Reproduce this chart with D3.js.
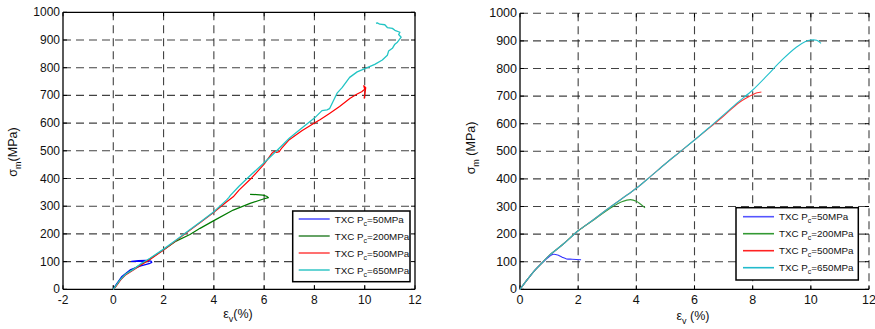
<!DOCTYPE html>
<html><head><meta charset="utf-8">
<script src="https://cdn.jsdelivr.net/npm/d3@7"></script>
<style>
body{margin:0;background:#fff;}
svg{display:block;font-family:"Liberation Sans",Arial,sans-serif;}
</style></head>
<body>
<svg id="c" width="875" height="329"></svg>
<script>
// ---------- data ----------
const seriesNames = ["50MPa","200MPa","500MPa","650MPa"];
const xTicksLeft = [-2,0,2,4,6,8,10,12];
const xTicksRight = [0,2,4,6,8,10,12];
const yTicks = [0,100,200,300,400,500,600,700,800,900,1000];

// left panel (experimental, eps_v %, sigma_m MPa)
const left50 = [[0,0],[0.1,15],[0.33,45],[0.67,70],[1.06,84],[1.46,94],[1.53,97],[1.5,102],[1.3,104],[1.0,103],[0.73,101],[0.9,102],[1.2,100],[1.4,101]];
const left200 = [[0,0],[0.1,12],[0.27,34],[0.5,55],[0.8,72],[1.1,90],[1.46,110],[2,143],[2.5,174],[3.05,198],[3.45,220],[4,248],[4.77,286],[5.44,310],[5.97,326],[6.17,331],[6.1,336],[5.95,340],[5.7,342],[5.44,343]];
const left500 = [[0,0],[0.1,10],[0.3,35],[0.5,53],[0.8,70],[1.1,88],[1.46,108],[2,142],[2.5,176],[3,210],[3.5,244],[4,278],[4.5,315],[4.77,334],[5,358],[5.5,402],[6,452],[6.3,490],[6.4,498],[6.5,494],[6.6,497],[6.7,510],[7,540],[7.5,572],[8,600],[8.22,612],[8.6,635],[9,660],[9.42,690],[9.7,705],[9.88,713],[10,722],[9.96,735],[10.04,728],[10,700],[9.98,690],[10.02,716]];
const left650 = [[0,0],[0.1,12],[0.27,34],[0.5,55],[0.8,72],[1.1,92],[1.46,112],[2,145],[2.5,178],[3,212],[3.5,246],[4,280],[4.5,322],[4.6,332],[4.65,338],[5,372],[5.5,415],[6,457],[6.5,500],[7,545],[7.5,582],[8,618],[8.3,645],[8.5,648],[8.6,652],[8.75,680],[8.9,708],[9.1,728],[9.4,765],[9.7,785],[10.1,800],[10.4,812],[10.7,828],[10.9,845],[10.95,860],[11.1,870],[11.2,885],[11.3,892],[11.45,910],[11.35,920],[11.4,928],[11.2,935],[11.1,942],[10.9,945],[10.8,955],[10.6,957],[10.5,962],[10.45,960]];

// right panel (simulation)
const right50 = [[0,0],[0.25,35],[0.5,68],[0.75,95],[1.0,118],[1.15,127],[1.3,124],[1.45,116],[1.6,110],[1.8,109],[2.1,107]];
const right200 = [[0,0],[0.25,35],[0.5,68],[0.75,95],[1,122],[1.5,165],[2,212],[2.5,249],[2.8,272],[3.2,300],[3.5,317],[3.8,325],[4.0,319],[4.15,308],[4.3,295]];
const right500 = [[0,0],[0.25,35],[0.5,68],[0.75,95],[1,122],[1.5,165],[2,212],[2.5,250],[3,290],[3.5,328],[4,366],[4.5,410],[5,455],[5.5,498],[6,541],[6.5,584],[7,628],[7.5,674],[7.8,694],[8,705],[8.15,712],[8.3,715]];
const right650 = [[0,0],[0.25,35],[0.5,68],[0.75,95],[1,122],[1.5,165],[2,212],[2.5,250],[3,290],[3.5,328],[4,366],[4.5,410],[5,455],[5.5,498],[6,541],[6.5,586],[7,632],[7.5,678],[8,722],[8.5,775],[9,830],[9.5,877],[9.8,897],[10,903],[10.2,902],[10.35,891]];

// ---------- drawing ----------
const svg = d3.select("#c");

function panel(o){
  const g = svg.append("g");
  const x = d3.scaleLinear().domain(o.xdom).range([o.x0,o.x1]);
  const y = d3.scaleLinear().domain([0,1000]).range([o.y1,o.y0]);
  const gridCol = "#222";
  // grid
  const gx = o.xticks.filter(t => o.fullBox ? (t!==o.xdom[0] && t!==o.xdom[1]) : t!==o.xdom[0]);
  const gy = yTicks.filter(t => o.fullBox ? (t!==0 && t!==1000) : t!==0);
  g.selectAll(".vg").data(gx).join("line")
    .attr("x1",d=>x(d)).attr("x2",d=>x(d)).attr("y1",o.y0).attr("y2",o.y1)
    .attr("stroke",gridCol).attr("stroke-width",1.1).attr("stroke-dasharray","8,5").attr("opacity",0.85);
  g.selectAll(".hg").data(gy).join("line")
    .attr("y1",d=>y(d)).attr("y2",d=>y(d)).attr("x1",o.x0).attr("x2",o.x1)
    .attr("stroke",gridCol).attr("stroke-width",1.1).attr("stroke-dasharray","8,5").attr("opacity",0.85);
  // inner ticks on all sides
  const tl = 4;
  g.selectAll(".tb").data(o.xticks).join("line").attr("x1",d=>x(d)).attr("x2",d=>x(d)).attr("y1",o.y1).attr("y2",o.y1-tl).attr("stroke","#000");
  g.selectAll(".tt").data(o.xticks).join("line").attr("x1",d=>x(d)).attr("x2",d=>x(d)).attr("y1",o.y0).attr("y2",o.y0+tl).attr("stroke","#000");
  g.selectAll(".tlf").data(yTicks).join("line").attr("y1",d=>y(d)).attr("y2",d=>y(d)).attr("x1",o.x0).attr("x2",o.x0+tl).attr("stroke","#000");
  g.selectAll(".tr").data(yTicks).join("line").attr("y1",d=>y(d)).attr("y2",d=>y(d)).attr("x1",o.x1).attr("x2",o.x1-tl).attr("stroke","#000");
  // axes lines
  g.append("line").attr("x1",o.x0).attr("x2",o.x1).attr("y1",o.y1).attr("y2",o.y1).attr("stroke","#000").attr("stroke-width",1.3);
  g.append("line").attr("x1",o.x0).attr("x2",o.x0).attr("y1",o.y0).attr("y2",o.y1).attr("stroke","#000").attr("stroke-width",1.3);
  if(o.fullBox){
    g.append("line").attr("x1",o.x0).attr("x2",o.x1).attr("y1",o.y0).attr("y2",o.y0).attr("stroke","#000").attr("stroke-width",1.3);
    g.append("line").attr("x1",o.x1).attr("x2",o.x1).attr("y1",o.y0).attr("y2",o.y1).attr("stroke","#000").attr("stroke-width",1.3);
  }
  // tick labels
  g.selectAll(".xl").data(o.xticks).join("text")
    .attr("x",d=>x(d)).attr("y",o.y1+15).attr("text-anchor","middle")
    .attr("font-size",o.fs).attr("fill","#111").text(d=>d);
  g.selectAll(".yl").data(yTicks).join("text")
    .attr("x",o.x0-3).attr("y",d=>y(d)+4).attr("text-anchor","end")
    .attr("font-size",o.fs).attr("fill","#111").text(d=>d);
  // axis labels
  const xl = g.append("text").attr("x",o.xlabX).attr("y",o.xlabY).attr("text-anchor","middle").attr("font-size",12.5).attr("fill","#111");
  xl.append("tspan").text("ε");
  xl.append("tspan").attr("font-size",9).attr("dy",4).text("v");
  xl.append("tspan").attr("dy",-4).text(o.space ? " (%)" : "(%)");
  const yl = g.append("text").attr("transform",`translate(${o.ylabX},${o.ylabY}) rotate(-90)`)
    .attr("text-anchor","middle").attr("font-size",12.5).attr("fill","#111");
  yl.append("tspan").text("σ");
  yl.append("tspan").attr("font-size",9).attr("dy",4).text("m");
  yl.append("tspan").attr("dy",-4).text(o.space ? " (MPa)" : "(MPa)");
  // data lines
  const line = d3.line().x(d=>x(d[0])).y(d=>y(d[1])).curve(o.curve);
  o.series.forEach((s,i)=>{
    g.append("path").datum(s).attr("d",line).attr("fill","none")
      .attr("stroke",o.colors[i]).attr("stroke-width",o.lw[i]).attr("stroke-linejoin","round");
  });
  // legend
  const L = o.leg;
  g.append("rect").attr("x",L.x).attr("y",L.y).attr("width",L.w).attr("height",L.h)
    .attr("fill","#fff").attr("stroke","#000").attr("stroke-width",1.5);
  seriesNames.forEach((n,i)=>{
    const yy = L.y + L.r0 + i*L.dr;
    g.append("line").attr("x1",L.x+L.l0).attr("x2",L.x+L.l1).attr("y1",yy).attr("y2",yy)
      .attr("stroke",o.legColors[i]).attr("stroke-width",o.legLw[i]);
    const t = g.append("text").attr("x",L.x+L.tx).attr("y",yy+3.5).attr("font-size",9.8).attr("fill","#111");
    t.append("tspan").text("TXC P");
    t.append("tspan").attr("font-size",7).attr("dy",3).text("c");
    t.append("tspan").attr("dy",-3).text("=" + n);
  });
}

panel({
  x0:63, x1:415, y0:12.3, y1:289.3, xdom:[-2,12], xticks:xTicksLeft, fullBox:true, fs:12,
  xlabX:238, xlabY:318, ylabX:17, ylabY:152, space:false, curve:d3.curveLinear,
  series:[left50,left200,left500,left650],
  colors:["#0000ff","#007a00","#ff0000","#22c4c4"], lw:[1.3,1.2,1.2,1.3],
  legColors:["#7777ff","#006600","#ff3333","#66d4d4"], legLw:[2,1.2,1.4,2],
  leg:{x:292.7,y:211,w:117.3,h:70.7,r0:8,dr:17,l0:6,l1:37,tx:42}
});
panel({
  x0:520, x1:869, y0:13.3, y1:289.3, xdom:[0,12], xticks:xTicksRight, fullBox:false, fs:12.5,
  xlabX:693, xlabY:320, ylabX:475, ylabY:148, space:true, curve:d3.curveCatmullRom,
  series:[right50,right200,right500,right650],
  colors:["#3333ff","#339933","#ff3333","#22c0cc"], lw:[1.1,1.1,1.1,1.1],
  legColors:["#5555ff","#339933","#ff2222","#22bbcc"], legLw:[1.6,1.6,1.6,1.6],
  leg:{x:736,y:207.7,w:122.3,h:72.3,r0:9,dr:17,l0:7,l1:38,tx:43}
});
</script>
</body></html>
